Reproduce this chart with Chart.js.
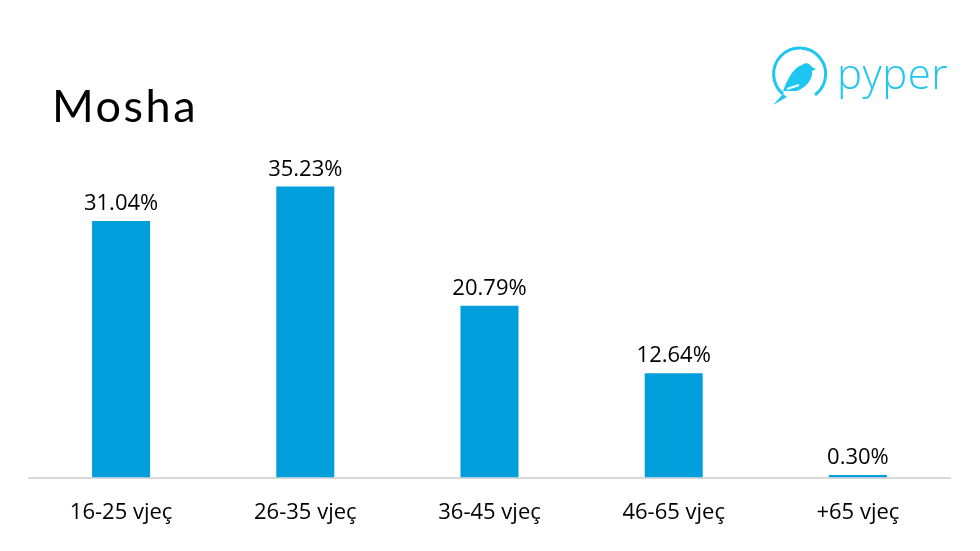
<!DOCTYPE html>
<html>
<head>
<meta charset="utf-8">
<script src="https://cdn.jsdelivr.net/npm/chart.js@4/dist/chart.umd.min.js"></script>
<style>
  html, body { margin: 0; padding: 0; background: #fff; }
  #wrap { position: relative; width: 980px; height: 551px; overflow: hidden; }
  #chart { position: absolute; left: 0; top: 0; }
  #title { position: absolute; left: 52px; top: 78px; font-family: Lato, sans-serif; font-weight: 400; font-size: 45px; letter-spacing: 2.5px; color: #000; }
  #logo { position: absolute; left: 769px; top: 45px; }
  #logoText { position: absolute; left: 837px; top: 44px; font-family: "Open Sans", sans-serif; font-weight: 300; font-size: 42px; color: #1ec6f2; letter-spacing: 0.5px; }
</style>
</head>
<body>
<div id="wrap">
  <canvas id="chart" width="980" height="551"></canvas>
  <div id="title">Mosha</div>
  <svg id="logo" width="60" height="64" viewBox="0 0 60 64">
    <path d="M46 50 A26 26 0 1 0 14 49" fill="none" stroke="#1ec6f2" stroke-width="3"/>
    <path d="M14 46 C20 30 26 22 33 20 C37 17 40 18 43 22 L47 24 L43 26 C44 34 38 42 28 46 Z" fill="#1ec6f2"/>
    <path d="M18 44 L30 40" stroke="#fff" stroke-width="2"/>
    <path d="M14 49 L4 60 L18 52 Z" fill="#1ec6f2"/>
  </svg>
  <div id="logoText">pyper</div>
</div>
<script>
const categories = ['16-25 vjeç', '26-35 vjeç', '36-45 vjeç', '46-65 vjeç', '+65 vjeç'];
const shares = [31.04, 35.23, 20.79, 12.64, 0.30];

// draw the value labels over each bar
const valueLabels = {
    id: 'valueLabels',
    afterDatasetsDraw(chart) {
        const ctx = chart.ctx;
        const meta = chart.getDatasetMeta(0);
        ctx.save();
        ctx.font = '22px "Open Sans", sans-serif';
        ctx.fillStyle = '#000';
        ctx.textAlign = 'center';
        ctx.textBaseline = 'bottom';
        meta.data.forEach(function (bar, i) {
            ctx.fillText(shares[i].toFixed(2) + '%', bar.x, bar.y - 6);
        });
        ctx.restore();
    }
};

new Chart(document.getElementById('chart'), {
    type: 'bar',
    data: {
        labels: categories,
        datasets: [{
            data: shares,
            backgroundColor: '#009fdb',
            categoryPercentage: 1,
            barPercentage: 0.315
        }]
    },
    options: {
        responsive: false,
        animation: false,
        layout: { padding: { left: 29, right: 30, top: 147, bottom: 11 } },
        plugins: {
            legend: { display: false },
            tooltip: { enabled: false }
        },
        scales: {
            y: { display: false, min: 0, max: 40 },
            x: {
                grid: { display: false },
                border: { display: true, color: '#d9d9d9', width: 2 },
                ticks: {
                    color: '#000',
                    padding: 14,
                    font: { family: '"Open Sans", sans-serif', size: 22 }
                }
            }
        }
    },
    plugins: [valueLabels]
});
</script>
</body>
</html>
